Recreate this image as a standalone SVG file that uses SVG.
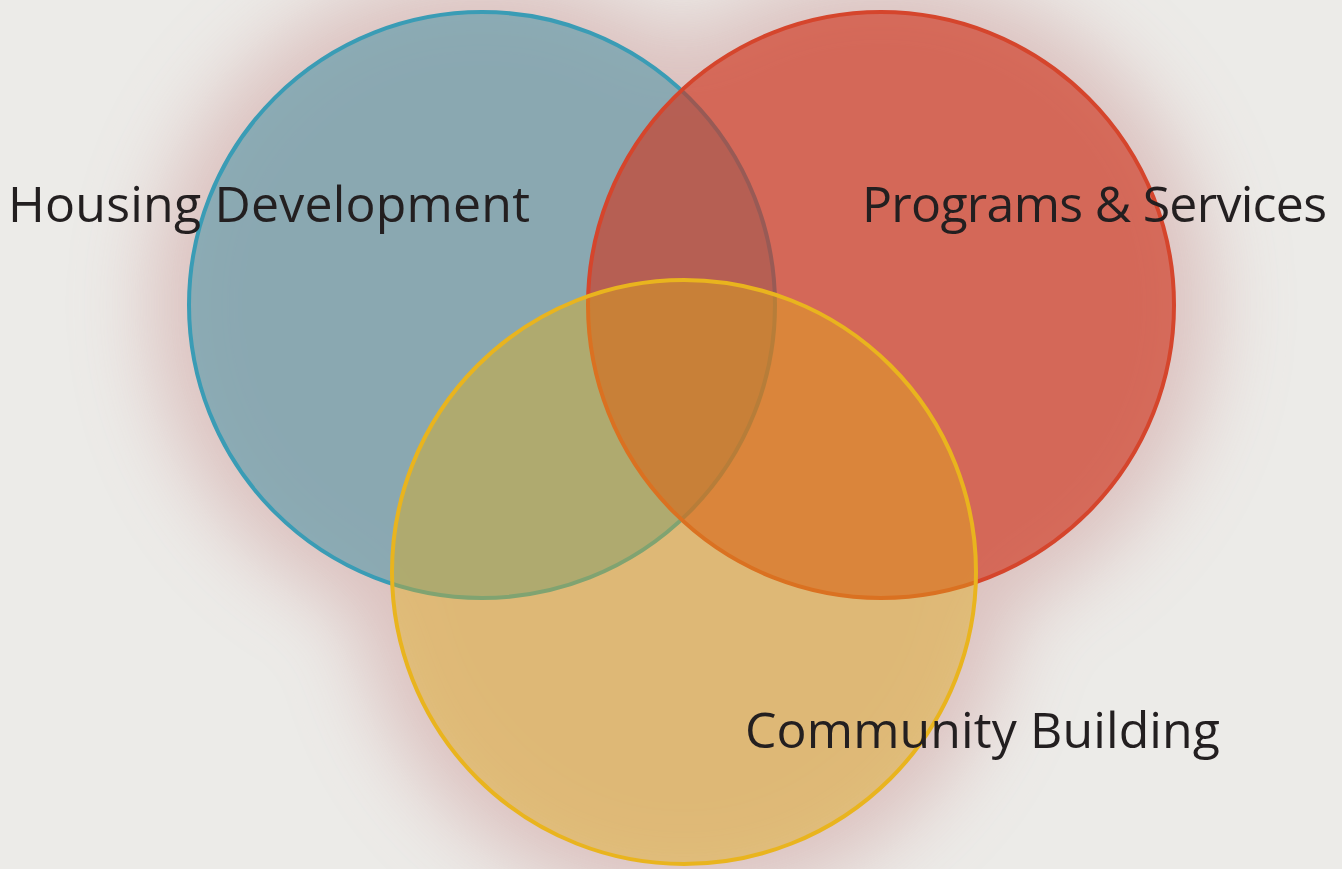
<svg xmlns="http://www.w3.org/2000/svg" width="1342" height="869" viewBox="0 0 1342 869">
<style>
.lbl{font-family:"Open Sans","Noto Sans",sans-serif;font-size:50px;fill:#231f20}
.c{stroke-width:4}
</style>
<defs>
<filter id="glow" x="-30%" y="-30%" width="160%" height="160%"><feGaussianBlur stdDeviation="40"/></filter>
</defs>
<rect width="1342" height="869" fill="#ecebe8"/>
<g filter="url(#glow)" fill="#d6b2b0" opacity="0.75">
<circle cx="482" cy="305" r="330"/>
<circle cx="881" cy="305" r="330"/>
<circle cx="684" cy="572" r="330"/>
</g>
<g id="housing">
<circle class="c" cx="482" cy="305" r="293" fill="rgb(88,154,170)" fill-opacity="0.62" stroke="#3a9cb5"/>
</g>
<g id="programs">
<circle class="c" cx="881" cy="305" r="293" fill="rgb(208,52,28)" fill-opacity="0.63" stroke="#d5452c"/>
</g>
<g id="community">
<circle class="c" cx="684" cy="572" r="292" fill="rgb(226,174,20)" fill-opacity="0.42" stroke="#e9b41e"/>
</g>
<g id="labels">
<text class="lbl" x="8" y="222" textLength="522">Housing Development</text>
<text class="lbl" x="862" y="222" textLength="465">Programs &amp; Services</text>
<text class="lbl" x="745" y="748" textLength="475">Community Building</text>
</g>
<g id="connectors"/>
</svg>
